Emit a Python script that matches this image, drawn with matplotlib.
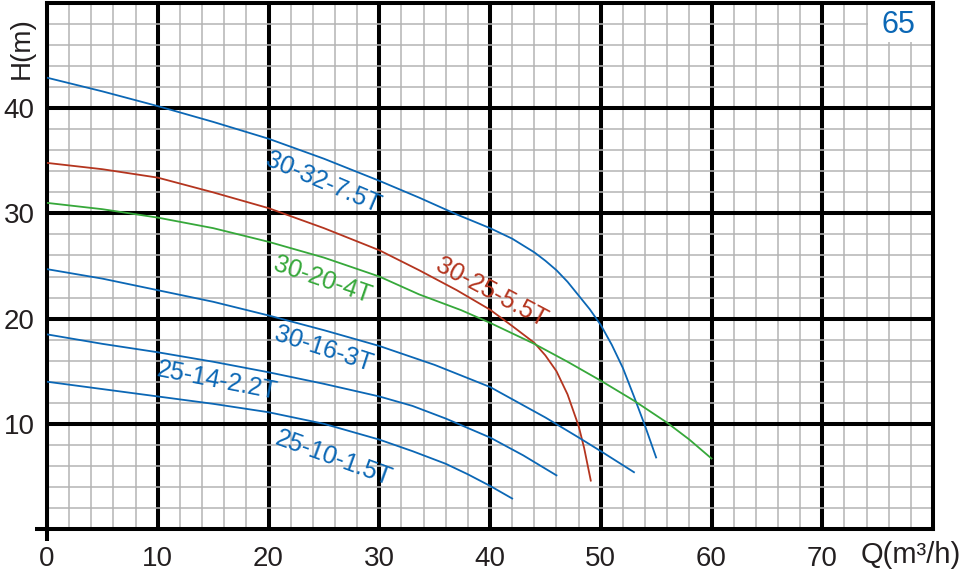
import matplotlib
matplotlib.use("Agg")
import matplotlib.pyplot as plt
from matplotlib.patches import Rectangle
from matplotlib.ticker import MultipleLocator

# --- DATA ---
q_7_5 = [0, 5, 10, 15, 20, 25, 30, 33.6, 37, 40, 42, 44, 45, 46, 47, 48, 49, 50, 51, 52, 53, 54, 55]
h_7_5 = [42.9, 41.6, 40.2, 38.7, 37.1, 35.2, 33.1, 31.5, 29.9, 28.6, 27.6, 26.3, 25.5, 24.6, 23.5, 22.2, 20.9, 19.4, 17.5, 15.3, 12.6, 9.8, 6.8]

q_5_5 = [0, 5, 10, 15, 20, 25, 30, 33.6, 37, 40, 42, 44, 45, 46, 47, 48, 48.5, 49.1]
h_5_5 = [34.8, 34.2, 33.4, 32.0, 30.5, 28.6, 26.5, 24.6, 22.7, 20.85, 19.3, 17.7, 16.5, 15.0, 12.8, 9.8, 7.7, 4.6]

q_4 = [0, 5, 10, 15, 20, 25, 30, 33.6, 37.4, 40, 44, 47, 50, 53, 56, 58, 60]
h_4 = [31.0, 30.4, 29.6, 28.6, 27.3, 25.8, 24.0, 22.3, 20.8, 19.6, 17.6, 15.9, 14.1, 12.2, 10.1, 8.5, 6.7]

q_3 = [0, 5, 10, 15, 20, 25, 30, 35, 40, 45, 48, 50, 53]
h_3 = [24.7, 23.8, 22.7, 21.6, 20.3, 18.9, 17.4, 15.6, 13.5, 10.6, 8.7, 7.4, 5.4]

q_2_2 = [0, 5, 10, 15, 20, 25, 30, 33, 36, 40, 43, 46]
h_2_2 = [18.5, 17.6, 16.8, 15.9, 14.9, 13.8, 12.6, 11.7, 10.5, 8.7, 7.0, 5.1]

q_1_5 = [0, 5, 10, 15, 20, 25, 30, 33, 36, 38, 40, 42]
h_1_5 = [14.0, 13.3, 12.6, 11.9, 11.1, 10.0, 8.5, 7.4, 6.2, 5.2, 4.1, 2.9]

x_ticks = [0, 10, 20, 30, 40, 50, 60, 70]
y_ticks = [10, 20, 30, 40]

BLUE = '#0b67b5'
RED = '#b4351f'
GREEN = '#36a83a'
TXT = '#231f20'

plt.rcParams['font.family'] = ['Liberation Sans', 'DejaVu Sans']

fig = plt.figure(figsize=(9.64, 5.76), dpi=100)
ax = fig.add_axes([47 / 964, 1 - 529 / 576, 886 / 964, 526 / 576])
ax.set_xlim(0, 80)
ax.set_ylim(0, 50)

# grid: minor every 2, major every 10
ax.xaxis.set_major_locator(MultipleLocator(10))
ax.yaxis.set_major_locator(MultipleLocator(10))
ax.xaxis.set_minor_locator(MultipleLocator(2))
ax.yaxis.set_minor_locator(MultipleLocator(2))
ax.grid(which='minor', color='#b4b4b4', lw=1.1)
ax.grid(which='major', color='black', lw=2.9)
ax.set_axisbelow(True)
for s in ax.spines.values():
    s.set_linewidth(2.9)
    s.set_color('black')

ax.set_xticks(x_ticks)
ax.set_yticks(y_ticks)
ax.set_xticklabels([str(v) for v in x_ticks])
ax.set_yticklabels([str(v) for v in y_ticks])
ax.tick_params(which='both', length=0, labelsize=20, colors=TXT)
ax.tick_params(axis='x', pad=12)
ax.tick_params(axis='y', pad=9)

# little cross at the origin
ax.plot([-1.1, 0], [0, 0], color='black', lw=2.9, clip_on=False, solid_capstyle='butt')
ax.plot([0, 0], [-1.1, 0], color='black', lw=2.9, clip_on=False, solid_capstyle='butt')

# curves
lw = 1.3
ax.plot(q_7_5, h_7_5, color=BLUE, lw=lw, zorder=3)
ax.plot(q_5_5, h_5_5, color=RED, lw=lw, zorder=3)
ax.plot(q_4, h_4, color=GREEN, lw=lw, zorder=3)
ax.plot(q_3, h_3, color=BLUE, lw=lw, zorder=3)
ax.plot(q_2_2, h_2_2, color=BLUE, lw=lw, zorder=3)
ax.plot(q_1_5, h_1_5, color=BLUE, lw=lw, zorder=3)

# curve labels
lab = dict(fontsize=18, ha='center', va='center', zorder=4)
ax.text(24.9, 32.9, '30-32-7.5T', color=BLUE, rotation=-23, **lab)
ax.text(40.1, 22.5, '30-25-5.5T', color=RED, rotation=-28, **lab)
ax.text(24.9, 23.7, '30-20-4T', color=GREEN, rotation=-19, **lab)
ax.text(25.0, 17.1, '30-16-3T', color=BLUE, rotation=-18, **lab)
ax.text(15.4, 14.1, '25-14-2.2T', color=BLUE, rotation=-11, **lab)
ax.text(25.9, 6.7, '25-10-1.5T', color=BLUE, rotation=-20, **lab)

# white patch behind the model number
ax.add_patch(Rectangle((74.15, 46.3), 5.85, 3.7, facecolor='white', edgecolor='none', zorder=1))
ax.text(76.9, 47.9, '65', color=BLUE, fontsize=22, ha='center', va='center', zorder=4)

# axis titles
fig.text(22 / 964, 1 - 48 / 576, 'H(m)', rotation=90, fontsize=20, color=TXT,
         ha='center', va='center')
fig.text(911 / 964, 1 - 555 / 576, 'Q(m³/h)', fontsize=21, color=TXT,
         ha='center', va='center')

fig.savefig('out.png', dpi=100)
